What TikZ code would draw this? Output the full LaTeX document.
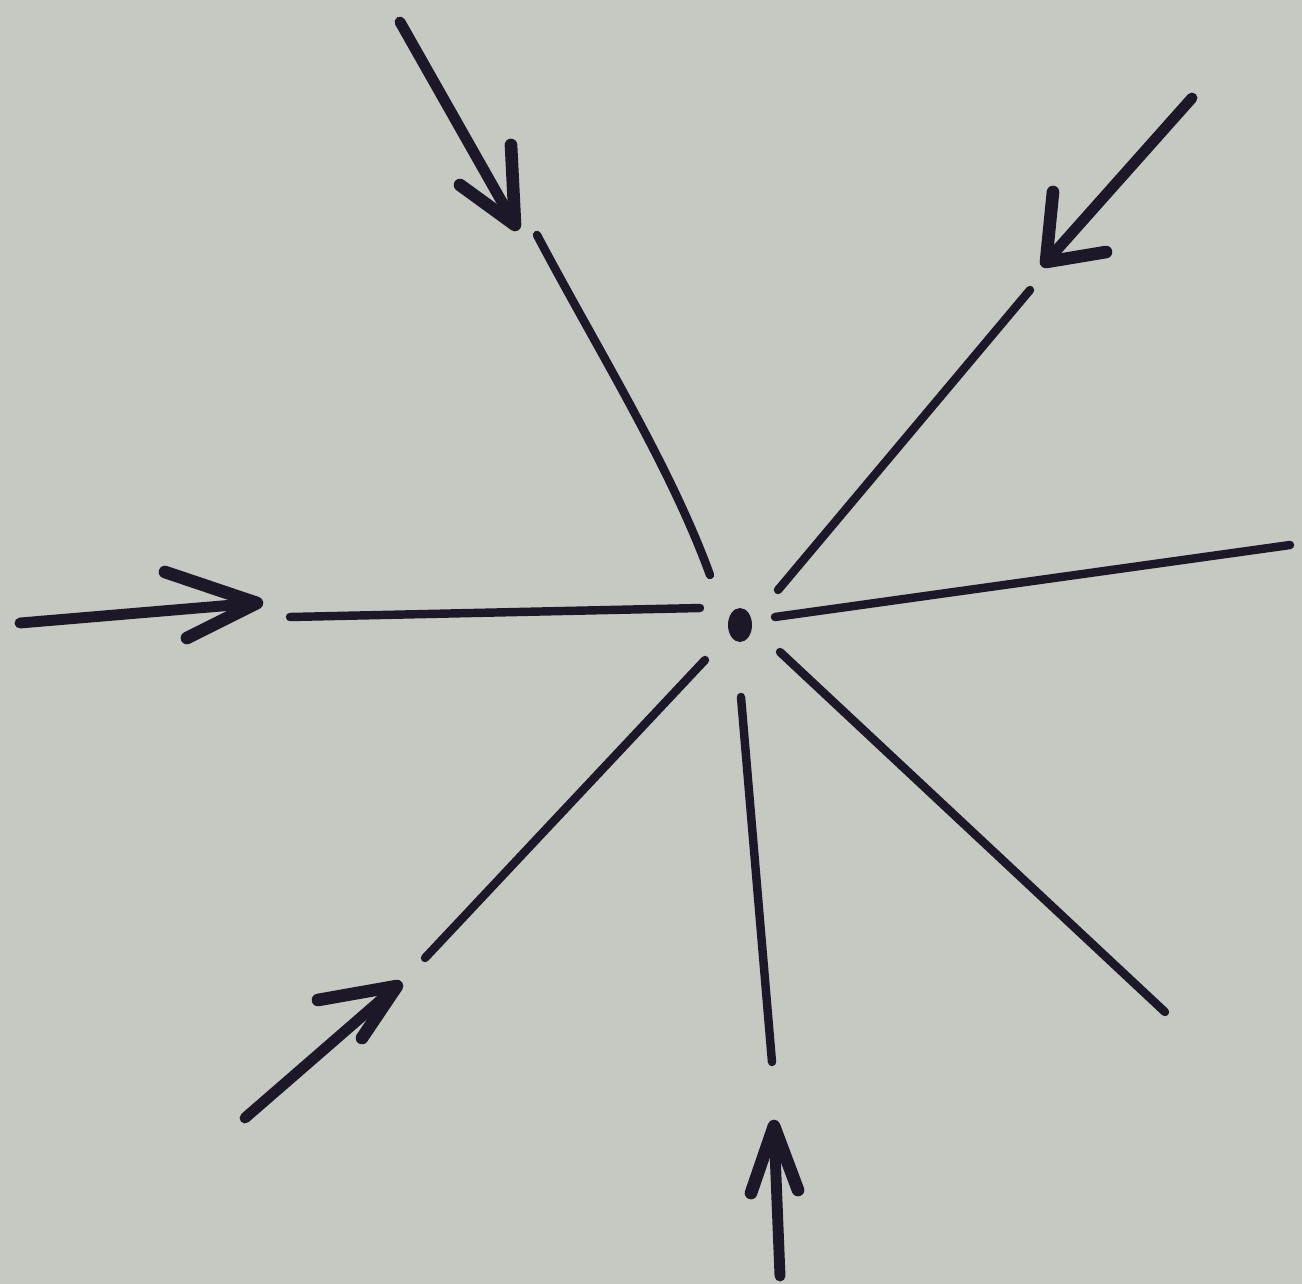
\documentclass[tikz,border=0pt]{standalone}
\begin{document}
\begin{tikzpicture}[x=0.01cm,y=-0.01cm,
  ink/.style={draw=inkc,line cap=round,line join=round},
  ray/.style={ink,line width=2.4pt},
  shaft/.style={ink,line width=3.1pt},
  barb/.style={ink,line width=3.6pt}]
\definecolor{paper}{RGB}{198,200,194}
\definecolor{inkc}{RGB}{28,24,40}
\fill[paper] (0,0) rectangle (1302,1284);
\useasboundingbox (0,0) rectangle (1302,1284);
% centre dot
\fill[inkc] (740,625) ellipse [x radius=12, y radius=17];
% rays
\draw[ray] (537,235) .. controls (595,345) and (670,465) .. (710,575);
\draw[ray] (1030,290) -- (778,590);
\draw[ray] (775,617) -- (1290,545);
\draw[ray] (290,617) -- (700,608);
\draw[ray] (425,958) -- (705,660);
\draw[ray] (772,1062) -- (741,697);
\draw[ray] (780,652) -- (1165,1012);
% arrows
% upper-left
\draw[shaft] (400,22) -- (515,225);
\draw[barb] (460,185) -- (515,225) -- (511,145);
% upper-right
\draw[shaft] (1192,98) -- (1046,262);
\draw[barb] (1053,192) -- (1046,262) -- (1106,252);
% left
\draw[shaft] (20,623) -- (257,603);
\draw[barb] (165,572) -- (257,603) -- (187,638);
% lower-left
\draw[shaft] (245,1118) -- (397,986);
\draw[barb] (318,1000) -- (397,986) -- (362,1038);
% bottom
\draw[shaft] (780,1276) -- (774,1126);
\draw[barb] (751,1193) -- (774,1126) -- (798,1190);
\end{tikzpicture}
\end{document}
